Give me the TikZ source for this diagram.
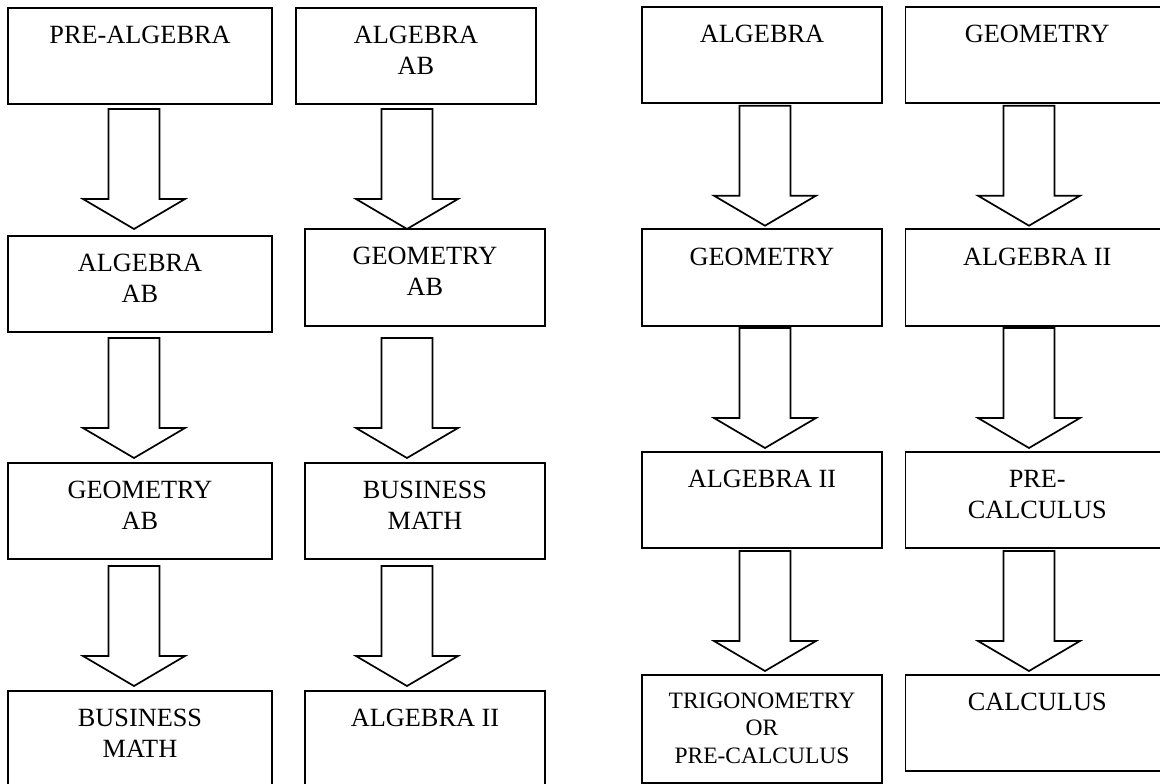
\documentclass[tikz,border=0pt]{standalone}
\usepackage{fontspec}
\setmainfont{Liberation Serif}
\usetikzlibrary{calc}
\newcommand{\fstrut}{\rule{0pt}{20pt}}
\begin{document}
\begin{tikzpicture}[x=1pt,y=-1pt,
  box/.style={draw=black, line width=1.8pt, inner sep=0pt, outer sep=0pt, fill=white},
  lbl/.style={anchor=north, inner sep=0pt, align=center, font=\fontsize{26.3}{30.5}\selectfont},
  lblsmall/.style={anchor=north, inner sep=0pt, align=center, font=\fontsize{23.5}{27.5}\selectfont},
  barrow/.pic={\draw[line width=1.7pt, fill=white, line join=miter]
     (-25.5,0) -- (25.5,0) -- (25.5,90) -- (51,90) -- (0,120) -- (-51,90) -- (-25.5,90) -- cycle;}]
\useasboundingbox (0,0) rectangle (1160,784);
\fill[white] (0,0) rectangle (1160,784);

% ---------- column 1 ----------
\node[box, minimum width=264pt, minimum height=96pt] (c1b1) at (140,56) {};
\node[box, minimum width=264pt, minimum height=96pt] (c1b2) at (140,284) {};
\node[box, minimum width=264pt, minimum height=96pt] (c1b3) at (140,511) {};
\node[box, minimum width=264pt, minimum height=96pt] (c1b4) at (140,739) {};
\node[lbl] (c1t1) at ($(c1b1.north)+(0,15.5)$) {\fstrut PRE-ALGEBRA};
\node[lbl] (c1t2) at ($(c1b2.north)+(0,15.5)$) {\fstrut ALGEBRA\\AB};
\node[lbl] (c1t3) at ($(c1b3.north)+(0,15.5)$) {\fstrut GEOMETRY\\AB};
\node[lbl] (c1t4) at ($(c1b4.north)+(0,15.5)$) {\fstrut BUSINESS\\MATH};
\pic at (134,109) {barrow};
\pic at (134,338) {barrow};
\pic at (134,566) {barrow};

% ---------- column 2 ----------
\node[box, minimum width=240pt, minimum height=96pt] (c2b1) at (416,56) {};
\node[box, minimum width=240pt, minimum height=97pt] (c2b2) at (425,277.5) {};
\node[box, minimum width=240pt, minimum height=96pt] (c2b3) at (425,511) {};
\node[box, minimum width=240pt, minimum height=96pt] (c2b4) at (425,739) {};
\node[lbl] (c2t1) at ($(c2b1.north)+(0,15.5)$) {\fstrut ALGEBRA\\AB};
\node[lbl] (c2t2) at ($(c2b2.north)+(0,15.5)$) {\fstrut GEOMETRY\\AB};
\node[lbl] (c2t3) at ($(c2b3.north)+(0,15.5)$) {\fstrut BUSINESS\\MATH};
\node[lbl] (c2t4) at ($(c2b4.north)+(0,15.5)$) {\fstrut ALGEBRA II};
\pic at (407,109) {barrow};
\pic at (407,338) {barrow};
\pic at (407,566) {barrow};

% ---------- column 3 ----------
\node[box, minimum width=240pt, minimum height=96.3pt] (c3b1) at (762,54.85) {};
\node[box, minimum width=240pt, minimum height=96.7pt] (c3b2) at (762,277.35) {};
\node[box, minimum width=240pt, minimum height=96pt] (c3b3) at (762,500) {};
\node[box, minimum width=240pt, minimum height=108pt] (c3b4) at (762,729) {};
\node[lbl] (c3t1) at ($(c3b1.north)+(0,16)$) {\fstrut ALGEBRA};
\node[lbl] (c3t2) at ($(c3b2.north)+(0,16)$) {\fstrut GEOMETRY};
\node[lbl] (c3t3) at ($(c3b3.north)+(0,15.3)$) {\fstrut ALGEBRA II};
\node[lblsmall] (c3t4) at ($(c3b4.north)+(0,13)$) {\fstrut TRIGONOMETRY\\OR\\PRE-CALCULUS};
\pic at (765,105.7) {barrow};
\pic at (765,328) {barrow};
\pic at (765,551) {barrow};

% ---------- column 4 ----------
\node[box, minimum width=263.5pt, minimum height=96.3pt] (c4b1) at (1037.25,54.85) {};
\node[box, minimum width=263.5pt, minimum height=96.7pt] (c4b2) at (1037.25,277.35) {};
\node[box, minimum width=263.5pt, minimum height=96pt] (c4b3) at (1037.25,500) {};
\node[box, minimum width=263.5pt, minimum height=96pt] (c4b4) at (1037.25,723) {};
\node[lbl] (c4t1) at ($(c4b1.north)+(0,16)$) {\fstrut GEOMETRY};
\node[lbl] (c4t2) at ($(c4b2.north)+(0,16)$) {\fstrut ALGEBRA II};
\node[lbl] (c4t3) at ($(c4b3.north)+(0,15.3)$) {\fstrut PRE-\\CALCULUS};
\node[lbl] (c4t4) at ($(c4b4.north)+(0,15.7)$) {\fstrut CALCULUS};
\pic at (1029,105.7) {barrow};
\pic at (1029,328) {barrow};
\pic at (1029,551) {barrow};
\end{tikzpicture}
\end{document}
